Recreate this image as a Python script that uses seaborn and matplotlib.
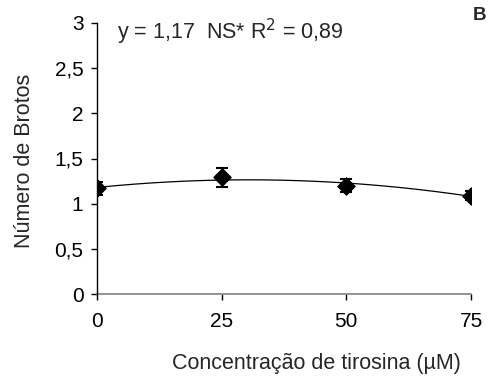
import numpy as np
import pandas as pd
import matplotlib
matplotlib.use("Agg")
import matplotlib.pyplot as plt
import seaborn as sns

# Tyrosine concentration (µM) and mean number of shoots with standard errors
concentracao = [0, 25, 50, 75]
brotos = [1.17, 1.29, 1.20, 1.09]
erro = [0.07, 0.11, 0.07, 0.05]
y_ticks = [0, 0.5, 1, 1.5, 2, 2.5, 3]
y_tick_labels = ["0", "0,5", "1", "1,5", "2", "2,5", "3"]
x_tick_labels = ["0", "25", "50", "75"]

sns.set_theme(style="ticks")
plt.rcParams["font.family"] = ["Liberation Sans", "DejaVu Sans"]

fig = plt.figure(figsize=(4.92, 3.78), dpi=100)
ax = fig.add_axes([97 / 492, 1 - 294 / 378, 374 / 492, 271 / 378])

df = pd.DataFrame({"x": concentracao, "y": brotos, "se": erro})

# Quadratic trend line fitted to the means
coef = np.polyfit(df["x"], df["y"], 2)
xs = np.linspace(0, 75, 200)
curve = pd.DataFrame({"x": xs, "y": np.polyval(coef, xs)})
sns.lineplot(data=curve, x="x", y="y", ax=ax, color="black", linewidth=0.9)

ax.errorbar(df["x"], df["y"], yerr=df["se"], fmt="none", ecolor="black",
            elinewidth=1.5, capsize=4.5, capthick=1.5, zorder=3)
sns.scatterplot(data=df, x="x", y="y", ax=ax, marker="D", s=80,
                color="black", edgecolor="black", zorder=4)

ax.set_xlim(0, 75)
ax.set_ylim(0, 3)
ax.set_xticks(concentracao)
ax.set_xticklabels(x_tick_labels)
ax.set_yticks(y_ticks)
ax.set_yticklabels(y_tick_labels)
ax.tick_params(axis="both", labelsize=15, length=4.3, width=1,
               color="black", labelcolor="black", direction="out")
ax.tick_params(axis="x", pad=9)
ax.tick_params(axis="y", pad=5.5)

for s in ["top", "right"]:
    ax.spines[s].set_visible(False)
ax.spines["left"].set_color("black")
ax.spines["left"].set_linewidth(1)
ax.spines["bottom"].set_color("#808080")
ax.spines["bottom"].set_linewidth(1.2)
ax.spines["left"].set_zorder(5)

ax.set_xlabel("Concentração de tirosina (µM)", fontsize=15.5)
ax.xaxis.label.set_va("center")
ax.xaxis.set_label_coords((316 - 97) / 374, (294 - 363) / 271)
ax.set_ylabel("Número de Brotos", fontsize=15.5)
ax.yaxis.label.set_va("center")
ax.yaxis.set_label_coords((25 - 97) / 374, (294 - 161) / 271)

ax.text((117 - 97) / 374, (294 - 32) / 271, "y = 1,17  NS* R$^2$ = 0,89",
        transform=ax.transAxes, ha="left", va="center", fontsize=15.5,
        clip_on=False)
fig.text(480 / 492, 1 - 16 / 378, "B", ha="center", va="center",
         fontsize=13.5, fontweight="bold")

fig.savefig("out.png", dpi=100)
